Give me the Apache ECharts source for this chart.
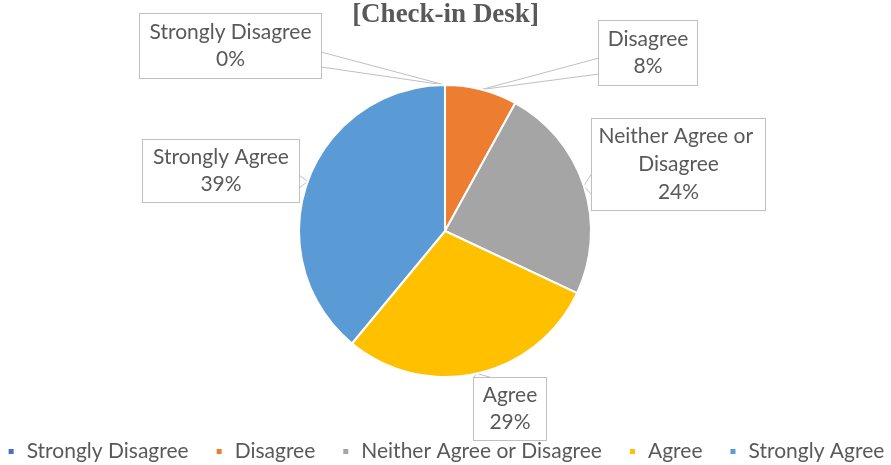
<!DOCTYPE html>
<html>
<head>
<meta charset="utf-8">
<title>[Check-in Desk]</title>
<script src="https://cdn.jsdelivr.net/npm/echarts@6/dist/echarts.min.js"></script>
<style>
  html, body { margin: 0; padding: 0; background: #fff; }
  #chart { width: 891px; height: 465px; }
</style>
</head>
<body>
<div id="chart"></div>
<script>
// Survey responses for the check-in desk (percent of respondents)
const categories = ['Strongly Disagree', 'Disagree', 'Neither Agree or Disagree', 'Agree', 'Strongly Agree'];
const shares = [0, 8, 24, 29, 39];
const sliceColors = ['#4472C4', '#ED7D31', '#A5A5A5', '#FFC000', '#5B9BD5'];

// Callout boxes: centre, size, and the two points where the pointer leaves the box
const callouts = [
  { cx: 230.5, cy: 46,    w: 181, pad: [5, 0, 5, 0], e1: [321, 52],  e2: [321, 67] },
  { cx: 648,   cy: 53,    w: 98,  pad: [5, 0, 5, 0], e1: [599, 58],  e2: [599, 74] },
  { cx: 678.5, cy: 164.5, w: 173, pad: [4, 0, 3, 0], e1: [592, 173], e2: [592, 195] },
  { cx: 510,   cy: 409,   w: 72,  pad: [4, 0, 4, 0], e1: [473, 378], e2: [493, 378] },
  { cx: 221,   cy: 171,   w: 156, pad: [4, 0, 4, 0], e1: [299, 175], e2: [299, 188] }
];

const textFont = 'Lato';
const textColor = '#595959';
const textSize = 21;

const chart = echarts.init(document.getElementById('chart'), null, { renderer: 'canvas' });

const pieData = categories.map(function (name, i) {
  const c = callouts[i];
  return {
    name: name,
    value: shares[i],
    itemStyle: { color: sliceColors[i] },
    label: {
      width: c.w,
      padding: c.pad,
      lineHeight: i === 2 ? 28 : 27
    }
  };
});

chart.setOption({
  animation: false,
  title: {
    text: '[Check-in Desk]',
    left: 'center',
    top: 2,
    padding: 0,
    textStyle: {
      fontFamily: 'Liberation Serif',
      fontWeight: 'bold',
      fontSize: 27,
      color: textColor
    }
  },
  legend: {
    left: 'center',
    top: 441,
    padding: 0,
    icon: 'rect',
    itemWidth: 7,
    itemHeight: 7,
    itemGap: 26,
    data: categories,
    textStyle: {
      fontFamily: textFont,
      fontSize: textSize,
      color: textColor,
      padding: [0, 0, 0, 7]
    }
  },
  series: [{
    type: 'pie',
    center: [445, 231],
    radius: 146,
    startAngle: 90,
    clockwise: true,
    avoidLabelOverlap: false,
    itemStyle: { borderColor: '#ffffff', borderWidth: 2 },
    label: {
      show: true,
      position: 'outside',
      fontFamily: textFont,
      fontSize: textSize,
      color: textColor,
      align: 'center',
      overflow: 'break',
      backgroundColor: '#ffffff',
      borderColor: '#BFBFBF',
      borderWidth: 1,
      formatter: function (p) { return p.name + '\n' + p.value + '%'; }
    },
    labelLine: {
      show: true,
      length: 10,
      length2: 10,
      lineStyle: { color: '#BFBFBF', width: 1 }
    },
    labelLayout: function (p) {
      const c = callouts[p.dataIndex];
      const out = { x: c.cx, y: c.cy, align: 'center', verticalAlign: 'middle' };
      if (p.labelLinePoints && p.labelLinePoints.length) {
        out.labelLinePoints = [c.e1, p.labelLinePoints[0], c.e2];
      }
      return out;
    },
    emphasis: { disabled: true },
    data: pieData
  }]
});
</script>
</body>
</html>
